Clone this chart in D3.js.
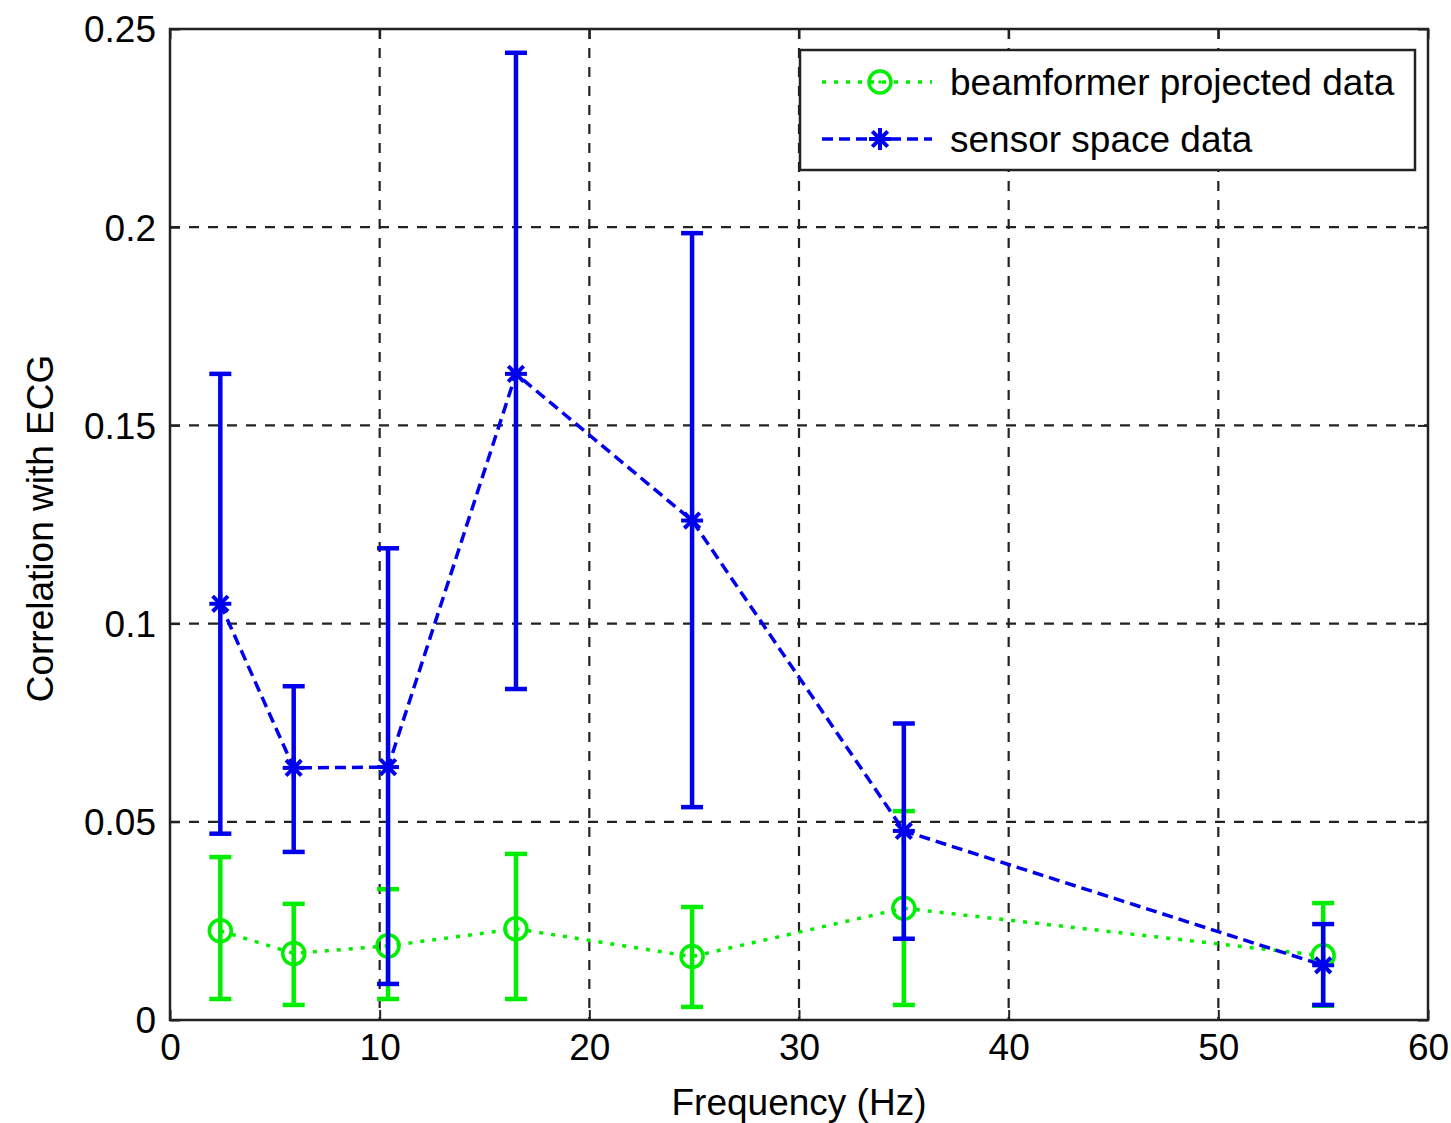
<!DOCTYPE html>
<html>
<head>
<meta charset="utf-8">
<script src="https://cdn.jsdelivr.net/npm/d3@7"></script>
<style>
  body { margin: 0; background: #fff; }
  svg text { font-family: "Liberation Sans", Arial, sans-serif; fill: #000; }
</style>
</head>
<body>
<div id="chart"></div>
<script>
// frequencies (Hz)
var freqs = [2.4, 5.9, 10.4, 16.5, 24.9, 35, 55];

// beamformer projected data
var beamMean  = [0.0225, 0.0168, 0.0187, 0.0230, 0.0160, 0.0282, 0.0162];
var beamUpper = [0.0411, 0.0293, 0.0330, 0.0419, 0.0285, 0.0527, 0.0295];
var beamLower = [0.0053, 0.0038, 0.0053, 0.0053, 0.0033, 0.0038, 0.0036];

// sensor space data
var sensMean  = [0.1050, 0.0636, 0.0638, 0.1630, 0.1260, 0.0477, 0.0138];
var sensUpper = [0.1630, 0.0842, 0.1190, 0.2440, 0.1985, 0.0748, 0.0242];
var sensLower = [0.0470, 0.0424, 0.0091, 0.0835, 0.0537, 0.0205, 0.0038];

var xTicks = [0, 10, 20, 30, 40, 50, 60];
var yTicks = [0, 0.05, 0.1, 0.15, 0.2, 0.25];

var legendLabels = ["beamformer projected data", "sensor space data"];

// set the dimensions and margins of the graph
var margin = { top: 29, right: 23, bottom: 103, left: 170 },
    width = 1451 - margin.left - margin.right,
    height = 1123 - margin.top - margin.bottom;

var fontSize = "37px";

var svg = d3.select("#chart")
    .append("svg")
    .attr("width", 1451)
    .attr("height", 1123)
    .append("g")
    .attr("transform", "translate(" + margin.left + "," + margin.top + ")");

var x = d3.scaleLinear().domain([0, 60]).range([0, width]);
var y = d3.scaleLinear().domain([0, 0.25]).range([height, 0]);

// grid
svg.selectAll("xgrid")
    .data(xTicks.slice(1, -1))
    .enter()
    .append("line")
    .attr("x1", function (d) { return x(d); })
    .attr("x2", function (d) { return x(d); })
    .attr("y1", 0)
    .attr("y2", height)
    .attr("stroke", "#222")
    .attr("stroke-width", 2.2)
    .attr("stroke-dasharray", "10,9");

svg.selectAll("ygrid")
    .data(yTicks.slice(1, -1))
    .enter()
    .append("line")
    .attr("x1", 0)
    .attr("x2", width)
    .attr("y1", function (d) { return y(d); })
    .attr("y2", function (d) { return y(d); })
    .attr("stroke", "#222")
    .attr("stroke-width", 2.2)
    .attr("stroke-dasharray", "10,9");

// axes
var xAxis = svg.append("g")
    .attr("transform", "translate(0," + height + ")")
    .call(d3.axisBottom(x).tickValues(xTicks).tickSize(-10).tickPadding(14).tickFormat(d3.format("d")));
var yAxis = svg.append("g")
    .call(d3.axisLeft(y).tickValues(yTicks).tickSize(-10).tickPadding(14)
        .tickFormat(function (d) { return d === 0 ? "0" : String(+d.toFixed(2)); }));
svg.append("g")
    .call(d3.axisTop(x).tickValues(xTicks).tickSize(-10).tickFormat(""));
svg.append("g")
    .attr("transform", "translate(" + width + ",0)")
    .call(d3.axisRight(y).tickValues(yTicks).tickSize(-10).tickFormat(""));

svg.selectAll(".domain").remove();
svg.selectAll(".tick line").attr("stroke", "#222").attr("stroke-width", 2);
svg.selectAll(".tick text").style("font-size", fontSize).attr("fill", "#000");
yAxis.selectAll(".tick text").attr("dy", "0.35em");

// frame
svg.append("rect")
    .attr("x", 0).attr("y", 0)
    .attr("width", width).attr("height", height)
    .attr("fill", "none")
    .attr("stroke", "#222")
    .attr("stroke-width", 2.5);

// axis labels
svg.append("text")
    .attr("x", width / 2)
    .attr("y", height + 95)
    .attr("text-anchor", "middle")
    .style("font-size", fontSize)
    .text("Frequency (Hz)");

svg.append("text")
    .attr("transform", "translate(-117," + (height / 2 + 4) + ")rotate(-90)")
    .attr("text-anchor", "middle")
    .style("font-size", fontSize)
    .text("Correlation with ECG");

function drawSeries(mean, upper, lower, color, dash, marker) {
    var pts = freqs.map(function (f, i) { return { f: f, m: mean[i], u: upper[i], l: lower[i] }; });
    var g = svg.append("g");

    g.append("path")
        .datum(pts)
        .attr("fill", "none")
        .attr("stroke", color)
        .attr("stroke-width", 3.5)
        .attr("stroke-dasharray", dash)
        .attr("d", d3.line().x(function (d) { return x(d.f); }).y(function (d) { return y(d.m); }));

    // error bars
    g.selectAll("ebar").data(pts).enter().append("line")
        .attr("x1", function (d) { return x(d.f); })
        .attr("x2", function (d) { return x(d.f); })
        .attr("y1", function (d) { return y(d.u); })
        .attr("y2", function (d) { return y(d.l); })
        .attr("stroke", color).attr("stroke-width", 4.5);
    g.selectAll("ecapu").data(pts).enter().append("line")
        .attr("x1", function (d) { return x(d.f) - 11; })
        .attr("x2", function (d) { return x(d.f) + 11; })
        .attr("y1", function (d) { return y(d.u); })
        .attr("y2", function (d) { return y(d.u); })
        .attr("stroke", color).attr("stroke-width", 4.5);
    g.selectAll("ecapl").data(pts).enter().append("line")
        .attr("x1", function (d) { return x(d.f) - 11; })
        .attr("x2", function (d) { return x(d.f) + 11; })
        .attr("y1", function (d) { return y(d.l); })
        .attr("y2", function (d) { return y(d.l); })
        .attr("stroke", color).attr("stroke-width", 4.5);

    pts.forEach(function (d) { marker(g, x(d.f), y(d.m)); });
}

function circleMarker(g, cx, cy) {
    g.append("circle")
        .attr("cx", cx).attr("cy", cy).attr("r", 11)
        .attr("fill", "none")
        .attr("stroke", "#00ee00")
        .attr("stroke-width", 3.5);
    g.append("circle")
        .attr("cx", cx).attr("cy", cy).attr("r", 1.8)
        .attr("fill", "#00ee00");
}

function starMarker(g, cx, cy) {
    var s = 11;
    var segs = [[-s, 0, s, 0], [0, -s, 0, s], [-s * 0.7, -s * 0.7, s * 0.7, s * 0.7], [-s * 0.7, s * 0.7, s * 0.7, -s * 0.7]];
    segs.forEach(function (p) {
        g.append("line")
            .attr("x1", cx + p[0]).attr("y1", cy + p[1])
            .attr("x2", cx + p[2]).attr("y2", cy + p[3])
            .attr("stroke", "#0000ee").attr("stroke-width", 4);
    });
}

drawSeries(beamMean, beamUpper, beamLower, "#00ee00", "4,8", circleMarker);
drawSeries(sensMean, sensUpper, sensLower, "#0000ee", "11,6", starMarker);

// legend
var lg = svg.append("g").attr("transform", "translate(" + (800 - margin.left) + "," + (50 - margin.top) + ")");
lg.append("rect")
    .attr("width", 615).attr("height", 120)
    .attr("fill", "#fff")
    .attr("stroke", "#222")
    .attr("stroke-width", 2.5);

var legendItems = [
    { label: legendLabels[0], color: "#00ee00", dash: "4,8", marker: circleMarker },
    { label: legendLabels[1], color: "#0000ee", dash: "11,6", marker: starMarker }
];
legendItems.forEach(function (it, i) {
    var ly = 32 + i * 57;
    lg.append("line")
        .attr("x1", 22).attr("x2", 132)
        .attr("y1", ly).attr("y2", ly)
        .attr("stroke", it.color)
        .attr("stroke-width", 3.5)
        .attr("stroke-dasharray", it.dash);
    it.marker(lg, 80, ly);
    lg.append("text")
        .attr("x", 150).attr("y", ly)
        .attr("dy", "0.35em")
        .style("font-size", fontSize)
        .text(it.label);
});
</script>
</body>
</html>
